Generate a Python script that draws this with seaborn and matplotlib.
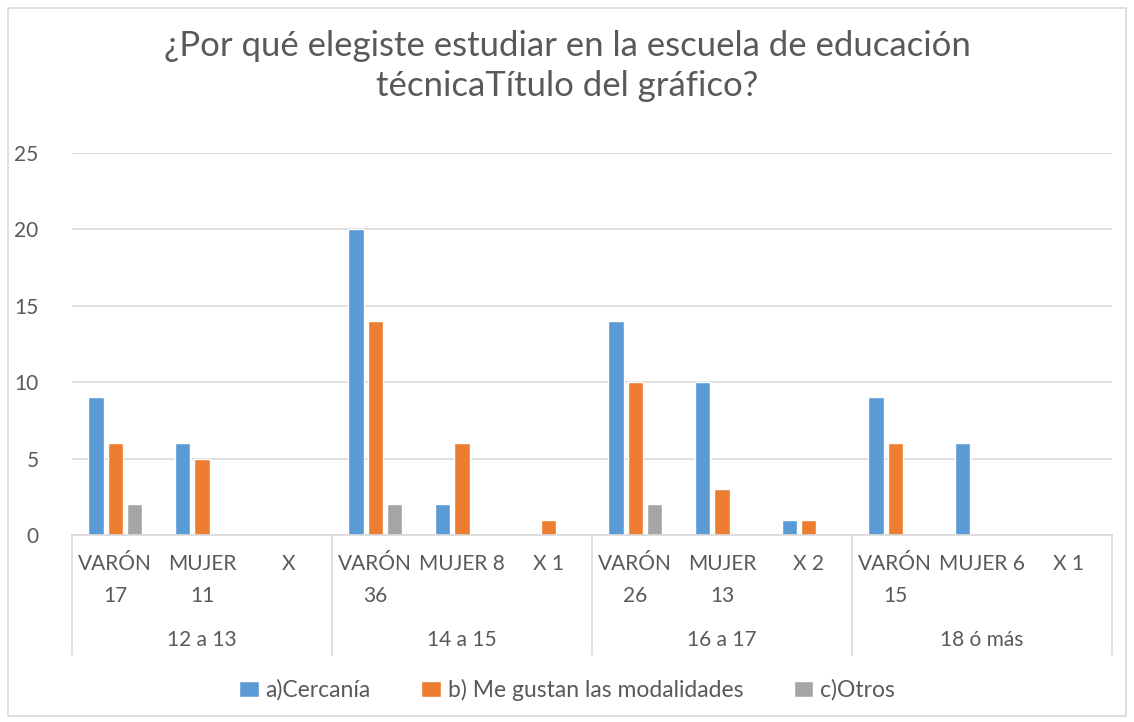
# Grouped bar chart: reasons for choosing the technical school, by age group and sex
import numpy as np
import pandas as pd
import seaborn as sns
import matplotlib.pyplot as plt
from matplotlib.patches import Rectangle

# %% data
age_groups = ['12 a 13', '14 a 15', '16 a 17', '18 ó más']
sub_labels = [
    'VARÓN\n17', 'MUJER\n11', 'X',
    'VARÓN\n36', 'MUJER 8', 'X 1',
    'VARÓN\n26', 'MUJER\n13', 'X 2',
    'VARÓN\n15', 'MUJER 6', 'X 1',
]
series_names = ['a)Cercanía', 'b) Me gustan las modalidades', 'c)Otros']
cercania = [9, 6, 0, 20, 2, 0, 14, 10, 1, 9, 6, 0]
modalidades = [6, 5, 0, 14, 6, 1, 10, 3, 1, 6, 0, 0]
otros = [2, 0, 0, 2, 0, 0, 2, 0, 0, 0, 0, 0]
colors = ['#5B9BD5', '#ED7D31', '#A5A5A5']

# %% build long table
rows = []
for name, vals in zip(series_names, [cercania, modalidades, otros]):
    for i, v in enumerate(vals):
        rows.append(dict(cat=i, serie=name, value=v))
df = pd.DataFrame(rows)

# %% plot
sns.set_theme(style='white')
plt.rcParams['font.family'] = ['Lato', 'DejaVu Sans']
text_color = '#595959'
grid_color = '#D9D9D9'

fig = plt.figure(figsize=(11.34, 7.22), dpi=100)
ax = fig.add_axes([72 / 1134, 1 - 535 / 722, 1040 / 1134, 382 / 722])

sns.barplot(df, x='cat', y='value', hue='serie', palette=colors,
            saturation=1, width=0.67, gap=0.22, ax=ax, legend=True,
            order=list(range(12)))

ax.set_ylim(0, 25)
ax.set_xlim(-0.5, 11.5)
ax.set_yticks(range(0, 26, 5))
ax.yaxis.grid(True, color=grid_color, linewidth=1.2)
ax.set_axisbelow(True)
for s in ['top', 'right', 'left']:
    ax.spines[s].set_visible(False)
ax.spines['bottom'].set_color(grid_color)
ax.spines['bottom'].set_linewidth(1.2)

ax.set_xticks(range(12))
ax.set_xticklabels(sub_labels, fontsize=15, color=text_color, linespacing=1.75)
ax.tick_params(axis='x', length=0, pad=14)
ax.tick_params(axis='y', length=0, pad=24, labelsize=15, labelcolor=text_color)
ax.set_xlabel('')
ax.set_ylabel('')

# group separators and group labels below the axis
trans = ax.get_xaxis_transform()
depth = (655 - 535) / 382
for b in [-0.5, 2.5, 5.5, 8.5, 11.5]:
    ax.plot([b, b], [0, -depth], transform=trans, color=grid_color,
            linewidth=1.2, clip_on=False)
for i, g in enumerate(age_groups):
    ax.text(3 * i + 1, -(640 - 535) / 382, g, transform=trans, ha='center',
            va='center', fontsize=15, color=text_color)

ax.get_legend().remove()
handles, labels = ax.get_legend_handles_labels()
fig.legend(handles, labels, loc='center', bbox_to_anchor=(0.5, 1 - 690 / 722),
           ncol=3, frameon=False, fontsize=16.5, labelcolor=text_color,
           handlelength=0.85, handleheight=0.7, handletextpad=0.3,
           columnspacing=2.2)

fig.suptitle('¿Por qué elegiste estudiar en la escuela de educación\ntécnicaTítulo del gráfico?',
             y=1 - 30 / 722, va='top', fontsize=25, color=text_color,
             linespacing=1.3)

fig.patches.append(Rectangle((8 / 1134, 6 / 722), 1118 / 1134, 708 / 722,
                             transform=fig.transFigure, fill=False,
                             edgecolor=grid_color, linewidth=1.2))

fig.savefig('out.png', dpi=100)
